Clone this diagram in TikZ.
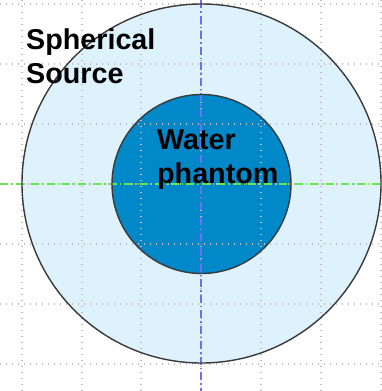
\documentclass[tikz,border=0pt]{standalone}
\usepackage{fontspec}
\setmainfont{Liberation Sans}
\usetikzlibrary{positioning}
\definecolor{phanSky}{HTML}{DEF2FE}
\definecolor{phanWater}{HTML}{0088C8}
\definecolor{phanEdge}{HTML}{3A3A3A}
\definecolor{phanGrid}{HTML}{BDBDBD}
\definecolor{phanAxisH}{HTML}{66E84A}
\definecolor{phanAxisV}{HTML}{6F6FF6}

\begin{document}
\begin{tikzpicture}[x=1pt,y=-1pt,line join=round]
\useasboundingbox (0,0) rectangle (382,391);
\path[fill=white] (0,0) rectangle (382,391);
\tikzset{gridline/.style={draw=phanGrid,line width=1.1pt,dash pattern=on 1.2pt off 4.8pt},axisline/.style={line width=1.1pt,dash pattern=on 8pt off 3pt on 1.5pt off 3pt},rim/.style={draw=phanEdge,line width=1.4pt},lbl/.style={anchor=base west,align=left,inner sep=0pt,font=\fontsize{28.7}{33.5}\selectfont\bfseries}}
\path[fill=phanSky] (201.5,183.5) circle[radius=179.5];
\path[fill=phanWater] (201.5,184) circle[radius=89.5];
\foreach \gx in {22,82,141,201,261,321,381} \draw[gridline] (\gx,0) -- (\gx,391);
\foreach \gy in {4,64,124,184,244,304,364} \draw[gridline] (0,\gy) -- (382,\gy);
\draw[axisline,draw=phanAxisH] (0,184) -- (382,184);
\draw[axisline,draw=phanAxisV] (201,0) -- (201,391);
\draw[rim] (201.5,183.5) circle[radius=179.5];
\draw[rim] (201.5,184) circle[radius=89.5];
\node[lbl] (source) at (26,83) {Spherical\\Source};
\node[lbl] (phantom) at (157,183) {Water\\phantom};
\end{tikzpicture}
\end{document}
